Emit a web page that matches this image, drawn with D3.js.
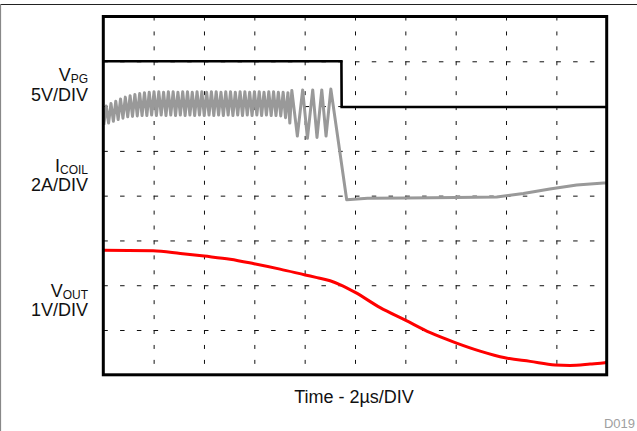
<!DOCTYPE html>
<html>
<head>
<meta charset="utf-8">
<script src="https://cdn.jsdelivr.net/npm/d3@7"></script>
<style>
  html, body { margin: 0; padding: 0; background: #fff; }
  svg { display: block; }
  text { font-family: "Liberation Sans", Arial, Helvetica, sans-serif; }
</style>
</head>
<body>
<svg id="chart" width="637" height="431"></svg>
<script>
// ---- Data (time in µs, 2 µs/div; amplitude in screen divisions, 0 = bottom, 8 = top)
const timeDomain = [0, 20];
const divDomain = [0, 8];
const xGridTicks = [2, 4, 6, 8, 10, 12, 14, 16, 18];
const yGridTicks = [1, 2, 3, 4, 5, 6, 7];

const vpgData = [[0, 7.0], [9.46, 7.0], [9.47, 5.98], [20, 5.98]];

const icoilData = [
  [0.020, 5.58], [0.115, 6.00], [0.210, 5.62], [0.305, 6.06], [0.400, 5.66], [0.495, 6.11],
  [0.590, 5.70], [0.685, 6.16], [0.780, 5.73], [0.875, 6.20], [0.970, 5.76], [1.065, 6.23],
  [1.160, 5.77], [1.255, 6.26], [1.350, 5.78], [1.445, 6.28], [1.540, 5.79], [1.635, 6.30],
  [1.730, 5.79], [1.825, 6.31], [1.920, 5.80], [2.015, 6.32], [2.110, 5.79], [2.205, 6.32],
  [2.300, 5.80], [2.395, 6.31], [2.490, 5.79], [2.585, 6.32], [2.680, 5.80], [2.775, 6.32],
  [2.870, 5.79], [2.965, 6.31], [3.060, 5.80], [3.155, 6.32], [3.250, 5.79], [3.345, 6.32],
  [3.440, 5.80], [3.535, 6.31], [3.630, 5.79], [3.725, 6.32], [3.820, 5.80], [3.915, 6.32],
  [4.010, 5.79], [4.105, 6.31], [4.200, 5.80], [4.295, 6.32], [4.390, 5.79], [4.485, 6.32],
  [4.580, 5.80], [4.675, 6.31], [4.770, 5.79], [4.865, 6.32], [4.960, 5.80], [5.055, 6.32],
  [5.150, 5.79], [5.245, 6.31], [5.340, 5.80], [5.435, 6.32], [5.530, 5.79], [5.625, 6.32],
  [5.720, 5.80], [5.815, 6.31], [5.910, 5.79], [6.005, 6.32], [6.100, 5.80], [6.195, 6.32],
  [6.290, 5.79], [6.385, 6.31], [6.480, 5.80], [6.575, 6.32], [6.670, 5.79], [6.765, 6.32],
  [6.860, 5.79], [6.955, 6.31], [7.050, 5.78], [7.145, 6.31], [7.240, 5.74], [7.335, 6.30],
  [7.410, 5.62], [7.490, 6.35], [7.710, 5.33], [7.920, 6.36], [8.110, 5.28], [8.320, 6.36],
  [8.490, 5.30], [8.680, 6.36], [8.850, 5.33], [9.040, 6.38],
  [9.670, 3.91], [10.5, 3.94], [12.0, 3.95], [14.0, 3.96], [15.63, 3.97],
  [16.69, 4.05], [17.74, 4.15], [18.81, 4.24], [19.88, 4.28], [20.0, 4.28]
];

const voutData = [
  [0, 2.78], [1.98, 2.77], [3.06, 2.71], [4.01, 2.65], [5.04, 2.58], [5.99, 2.48],
  [7.02, 2.36], [8.02, 2.23], [8.49, 2.17], [9.01, 2.10], [9.42, 2.01], [10.01, 1.84],
  [11.0, 1.50], [12.0, 1.22], [12.99, 0.94], [13.98, 0.72], [14.97, 0.53], [15.96, 0.38],
  [16.96, 0.30], [17.95, 0.22], [18.54, 0.21], [19.34, 0.24], [19.93, 0.27], [20.0, 0.28]
];

const channelLabels = [
  { main: "V", sub: "PG", scale: "5V/DIV", y: 81 },
  { main: "I", sub: "COIL", scale: "2A/DIV", y: 171.5 },
  { main: "V", sub: "OUT", scale: "1V/DIV", y: 296.5 }
];
const xAxisTitle = "Time - 2µs/DIV";
const figureId = "D019";

// ---- Layout
const plot = { left: 103.3, top: 16.5, right: 606.7, bottom: 374.8 };
const svg = d3.select("#chart");

// outer figure border (top + left only)
svg.append("line").attr("x1", 0).attr("x2", 637).attr("y1", 4.5).attr("y2", 4.5)
  .attr("stroke", "#222").attr("stroke-width", 1);
svg.append("line").attr("x1", 0.5).attr("x2", 0.5).attr("y1", 4).attr("y2", 431)
  .attr("stroke", "#888").attr("stroke-width", 1.2);

const x = d3.scaleLinear().domain(timeDomain).range([plot.left, plot.right]);
const y = d3.scaleLinear().domain(divDomain).range([plot.bottom, plot.top]);
const W = plot.right - plot.left, H = plot.bottom - plot.top;

// grid via axes
const gx = svg.append("g").attr("transform", `translate(0,${plot.top})`)
  .call(d3.axisBottom(x).tickValues(xGridTicks).tickSize(H).tickFormat(""));
gx.select(".domain").remove();
gx.selectAll(".tick line").attr("stroke", "#111").attr("stroke-width", 1)
  .attr("stroke-dasharray", `4,${(H / 8 / 3 - 4).toFixed(2)}`);

const gy = svg.append("g").attr("transform", `translate(${plot.left},0)`)
  .call(d3.axisRight(y).tickValues(yGridTicks).tickSize(W).tickFormat(""));
gy.select(".domain").remove();
gy.selectAll(".tick line").attr("stroke", "#111").attr("stroke-width", 1)
  .attr("stroke-dasharray", `4.5,${(W / 10 / 3 - 4.5).toFixed(2)}`);

// traces
const line = d3.line().x(d => x(d[0])).y(d => y(d[1]));
const clip = svg.append("clipPath").attr("id", "clip").append("rect")
  .attr("x", plot.left).attr("y", plot.top).attr("width", W).attr("height", H);
const traces = svg.append("g").attr("clip-path", "url(#clip)");

traces.append("path").datum(icoilData).attr("d", line)
  .attr("fill", "none").attr("stroke", "#999999").attr("stroke-width", 3)
  .attr("stroke-linejoin", "round");
traces.append("path").datum(voutData).attr("d", d3.line().x(d => x(d[0])).y(d => y(d[1])).curve(d3.curveMonotoneX))
  .attr("fill", "none").attr("stroke", "#ff0000").attr("stroke-width", 3);
traces.append("path").datum(vpgData).attr("d", line)
  .attr("fill", "none").attr("stroke", "#000").attr("stroke-width", 2.6);

// frame
svg.append("rect").attr("x", plot.left).attr("y", plot.top).attr("width", W).attr("height", H)
  .attr("fill", "none").attr("stroke", "#000").attr("stroke-width", 3);

// channel labels
channelLabels.forEach(c => {
  const t = svg.append("text").attr("x", 88).attr("y", c.y).attr("text-anchor", "end")
    .attr("font-size", 18).attr("fill", "#111");
  t.append("tspan").text(c.main);
  t.append("tspan").attr("font-size", 12).attr("dy", 2).text(c.sub);
  svg.append("text").attr("x", 88).attr("y", c.y + 19.5).attr("text-anchor", "end")
    .attr("font-size", 18).attr("fill", "#111").text(c.scale);
});

svg.append("text").attr("x", 354).attr("y", 403).attr("text-anchor", "middle")
  .attr("font-size", 18).attr("fill", "#111").text(xAxisTitle);

svg.append("text").attr("x", 635).attr("y", 428.3).attr("text-anchor", "end")
  .attr("font-size", 13).attr("fill", "#a0a0a0").text(figureId);
</script>
</body>
</html>
